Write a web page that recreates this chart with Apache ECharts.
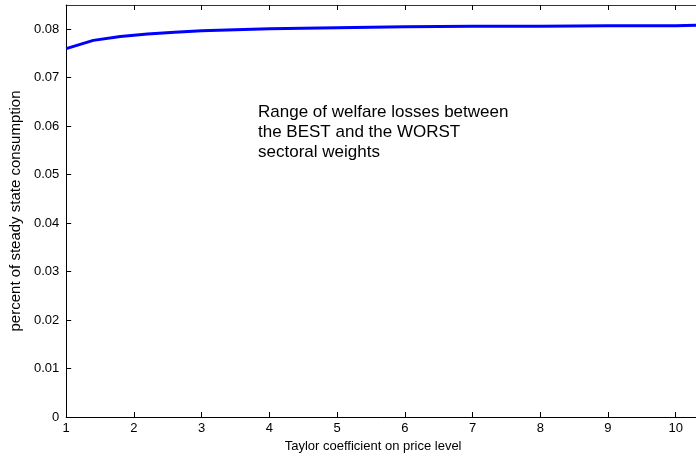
<!DOCTYPE html>
<html>
<head>
<meta charset="utf-8">
<script src="https://cdn.jsdelivr.net/npm/echarts@6/dist/echarts.min.js"></script>
<style>
  html, body { margin: 0; padding: 0; background: #fff; }
  #chart { width: 696px; height: 459px; }
</style>
</head>
<body>
<div id="chart"></div>
<script>
// Taylor coefficient on price level
const taylorCoef = [1, 1.4, 1.8, 2.2, 2.6, 3, 3.5, 4, 4.5, 5, 6, 7, 8, 9, 10, 10.3];
// welfare loss range (percent of steady state consumption)
const lossRange = [0.0760, 0.0777, 0.0785, 0.0790, 0.0794, 0.0797, 0.0799, 0.0801, 0.0802, 0.0803, 0.0805, 0.0806, 0.0806, 0.0807, 0.0807, 0.0808];
const yTicks = ["0", "0.01", "0.02", "0.03", "0.04", "0.05", "0.06", "0.07", "0.08"];

const axisCol = "#000";
const font = "Liberation Sans, Arial, sans-serif";

const chart = echarts.init(document.getElementById("chart"));

const tick = { show: true, inside: true, length: 5, lineStyle: { color: axisCol, width: 1 } };

const option = {
  animation: false,
  grid: { left: 65, right: -1, top: 5, bottom: 42 },
  xAxis: [
    {
      type: "value",
      min: 1,
      max: 10.3,
      interval: 1,
      name: "Taylor coefficient on price level",
      nameLocation: "middle",
      nameGap: 23,
      nameTextStyle: { fontFamily: font, fontSize: 13, color: "#000", padding: [0, 16, 0, 0] },
      axisLine: { show: true, lineStyle: { color: axisCol, width: 1 } },
      axisTick: tick,
      axisLabel: { showMaxLabel: false, margin: 5, fontFamily: font, fontSize: 13, color: "#000" },
      splitLine: { show: false }
    },
    {
      type: "value",
      position: "top",
      min: 1,
      max: 10.3,
      interval: 1,
      axisLine: { show: true, lineStyle: { color: "#333", width: 1 } },
      axisTick: tick,
      axisLabel: { show: false },
      splitLine: { show: false }
    }
  ],
  yAxis: {
    type: "value",
    min: 0,
    max: 0.085,
    interval: 0.01,
    name: "percent of steady state consumption",
    nameLocation: "middle",
    nameGap: 43,
    nameTextStyle: { fontFamily: font, fontSize: 15, color: "#000" },
    axisLine: { show: true, lineStyle: { color: axisCol, width: 1 } },
    axisTick: tick,
    axisLabel: {
      showMaxLabel: false,
      margin: 7,
      fontFamily: font,
      fontSize: 13,
      color: "#000",
      formatter: function (v) {
        const i = Math.round(v / 0.01);
        return yTicks[i] !== undefined && Math.abs(v - i * 0.01) < 1e-9 ? yTicks[i] : "";
      }
    },
    splitLine: { show: false }
  },
  graphic: [
    {
      type: "text",
      left: 258,
      top: 102,
      style: {
        text: "Range of welfare losses between\nthe BEST and the WORST\nsectoral weights",
        font: "17px " + font,
        lineHeight: 20,
        fill: "#000"
      }
    }
  ],
  series: [
    {
      type: "line",
      data: taylorCoef.map((x, i) => [x, lossRange[i]]),
      showSymbol: false,
      smooth: false,
      lineStyle: { color: "#0000ff", width: 3 },
      clip: true
    }
  ]
};

chart.setOption(option);
</script>
</body>
</html>
